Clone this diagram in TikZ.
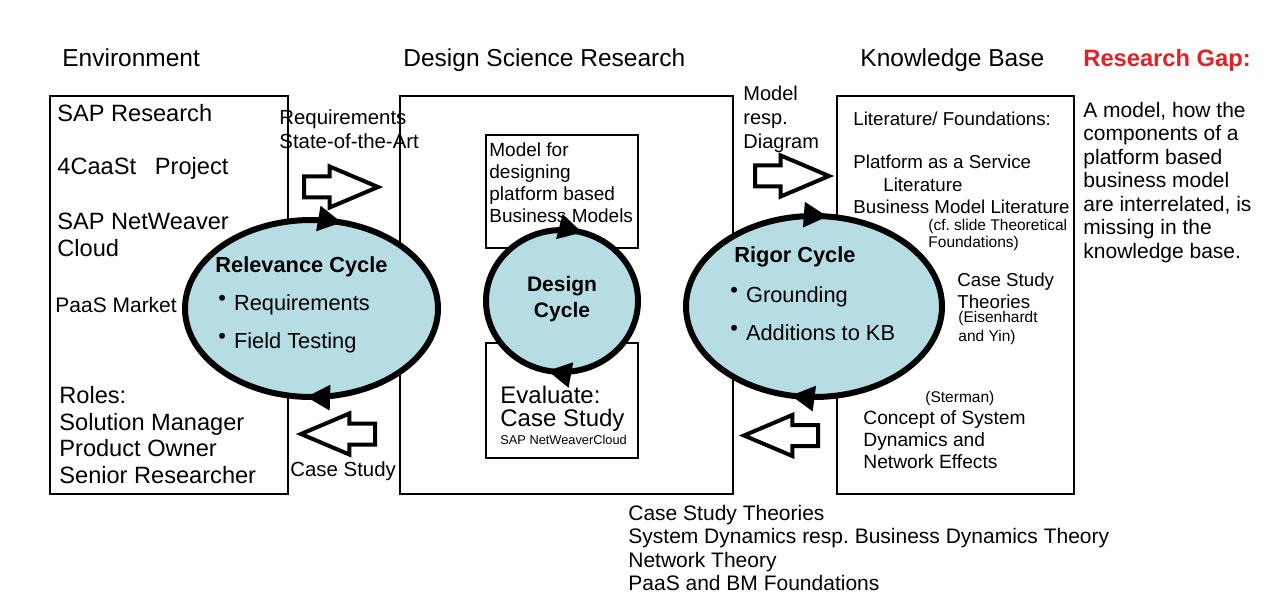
\documentclass[tikz,border=0pt]{standalone}
\usepackage{fontspec}
\setmainfont{Liberation Sans}
\usetikzlibrary{positioning,shapes.arrows,shapes.geometric,arrows.meta,decorations.markings}
\definecolor{cycblue}{RGB}{183,221,228}
\definecolor{gapred}{RGB}{221,34,40}
\tikzset{box/.style={draw, line width=1pt, inner sep=0pt}}
\tikzset{cyc/.style={ellipse, draw, line width=3pt, fill=cycblue, inner sep=0pt}}
\tikzset{cycmarks/.style 2 args={postaction={decorate, decoration={markings,
	mark=at position #1 with {\arrowreversed{Triangle[length=12pt,width=12pt]}},
	mark=at position #2 with {\arrowreversed{Triangle[length=12pt,width=12pt]}}}}}}
\tikzset{blockarr/.style={single arrow, draw, line width=2pt, inner xsep=0pt, inner ysep=4.25pt,
	minimum width=0pt, minimum height=37pt, single arrow head extend=5pt, single arrow tip angle=46, anchor=tail}}
\tikzset{txt/.style={anchor=west, inner sep=0pt, align=left}}
\tikzset{ttl/.style={txt, font=\fontsize{12.25}{14}\selectfont}}
\tikzset{envtxt/.style={txt, font=\fontsize{11.8}{13.4}\selectfont}}
\tikzset{lbl/.style={txt, font=\fontsize{10.2}{12}\selectfont}}
\tikzset{kbtxt/.style={txt, font=\fontsize{9.35}{11.2}\selectfont}}
\tikzset{kbsmall/.style={txt, font=\fontsize{7.75}{9}\selectfont}}
\tikzset{cyctitle/.style={txt, font=\fontsize{10.9}{13}\selectfont\bfseries}}
\tikzset{bul/.style={txt, font=\fontsize{10.9}{13}\selectfont}}
\newcommand{\bulitem}[1]{\raisebox{0.25em}{\textbullet}\hspace{4pt}#1}
\frenchspacing
\begin{document}
\begin{tikzpicture}[x=0.5pt, y=-0.5pt]
	\useasboundingbox (0,0) rectangle (1267,604);
	% frames
	\node[box, minimum width=119pt, minimum height=199pt] (env) at (169,295) {};
	\node[box, minimum width=166.5pt, minimum height=199pt] (dsr) at (566.5,295) {};
	\node[box, minimum width=118.5pt, minimum height=199pt] (kb) at (955.5,295) {};
	\node[box, line width=0.8pt, minimum width=76pt, minimum height=56.5pt] (mdl) at (562,191.5) {};
	\node[box, line width=0.8pt, minimum width=76pt, minimum height=57.5pt] (evl) at (562,400.5) {};
	%
	\node[ttl] (henv) at (62,58) {Environment};
	\node[ttl] (hdsr) at (403,60) {Design Science Research};
	\node[ttl] (hkb) at (860,60) {Knowledge Base};
	\node[ttl, font=\fontsize{11.85}{14}\selectfont\bfseries, text=gapred] (hgap) at (1083,60) {Research Gap:};
	%
	\node[envtxt] (sapr) at (57,113) {SAP Research};
	\node[envtxt] (caast) at (57,168) {4CaaSt\hspace{0.8em}Project};
	\node[envtxt] (nwc) at (57,235) {SAP NetWeaver\\Cloud};
	\node[envtxt, font=\fontsize{10.5}{12}\selectfont] (paas) at (55,305) {PaaS Market};
	\node[envtxt] (roles) at (59,435) {Roles:\\Solution Manager\\Product Owner\\Senior Researcher};
	%
	\node[cyc, cycmarks={0.205}{0.742}, minimum width=126.5pt, minimum height=88.5pt] (rel) at (311.5,308.5) {};
	\node[cyc, cycmarks={0.205}{0.718}, minimum width=76pt, minimum height=71pt] (des) at (562,301) {};
	\node[cyc, cycmarks={0.23}{0.716}, minimum width=128pt, minimum height=90.5pt] (rig) at (814,306.5) {};
	%
	\node[cyctitle] (relt) at (215,267) {Relevance Cycle};
	\node[bul] (rq) at (218,305) {\bulitem{Requirements}};
	\node[bul] (ft) at (218,343) {\bulitem{Field Testing}};
	\node[cyctitle, anchor=center, align=center, font=\fontsize{10.5}{13}\selectfont\bfseries] (dest) at (562,299) {Design\\Cycle};
	\node[cyctitle] (rigt) at (734,257) {Rigor Cycle};
	\node[bul] (gr) at (730,297) {\bulitem{Grounding}};
	\node[bul] (add) at (730,333) {\bulitem{Additions to KB}};
	%
	\node[txt, font=\fontsize{9.5}{11}\selectfont] (mdlt) at (489,183) {Model for\\designing\\platform based\\Business Models};
	\node[txt, font=\fontsize{12}{11.5}\selectfont] (evlt) at (500,408.5) {Evaluate:\\Case Study};
	\node[txt, font=\fontsize{6.4}{8}\selectfont] (evsap) at (500,440) {SAP NetWeaverCloud};
	%
	\node[blockarr] (reqarr) at (302,187) {};
	\node[blockarr, shape border rotate=180] (csarr) at (377,434) {};
	\node[blockarr] (mdarr) at (753,176) {};
	\node[blockarr, shape border rotate=180] (kbarr) at (820,435.5) {};
	\node[lbl] (reqt) at (279,129) {Requirements\\State-of-the-Art};
	\node[lbl] (cst) at (290,471) {Case Study};
	\node[lbl, font=\fontsize{10}{12}\selectfont] (mdt) at (743,119) {Model\\resp.\\Diagram};
	%
	\node[kbtxt] (litf) at (853,119) {Literature/ Foundations:};
	\node[kbtxt] (paasl) at (853,184.5) {Platform as a Service\\\hspace*{15pt}Literature\\Business Model Literature};
	\node[kbsmall, font=\fontsize{7.75}{8.5}\selectfont] (cfs) at (928,234.5) {(cf. slide Theoretical\\Foundations)};
	\node[kbtxt, font=\fontsize{9.35}{11}\selectfont] (cst2) at (957,291) {Case Study\\Theories};
	\node[kbsmall, font=\fontsize{7.75}{9.5}\selectfont] (eis) at (958,327.5) {(Eisenhardt\\and Yin)};
	\node[kbsmall] (ster) at (925,398) {(Sterman)};
	\node[kbtxt, font=\fontsize{9.6}{11}\selectfont] (sysd) at (863,440) {Concept of System\\Dynamics and\\Network Effects};
	%
	\node[txt, font=\fontsize{10.5}{11.75}\selectfont] (gapt) at (1083,182.5) {A model, how the\\components of a\\platform based\\business model\\are interrelated, is\\missing in the\\knowledge base.};
	\node[txt, font=\fontsize{10.5}{11.67}\selectfont] (theo) at (628,548) {Case Study Theories\\System Dynamics resp. Business Dynamics Theory\\Network Theory\\PaaS and BM Foundations};
\end{tikzpicture}
\end{document}
